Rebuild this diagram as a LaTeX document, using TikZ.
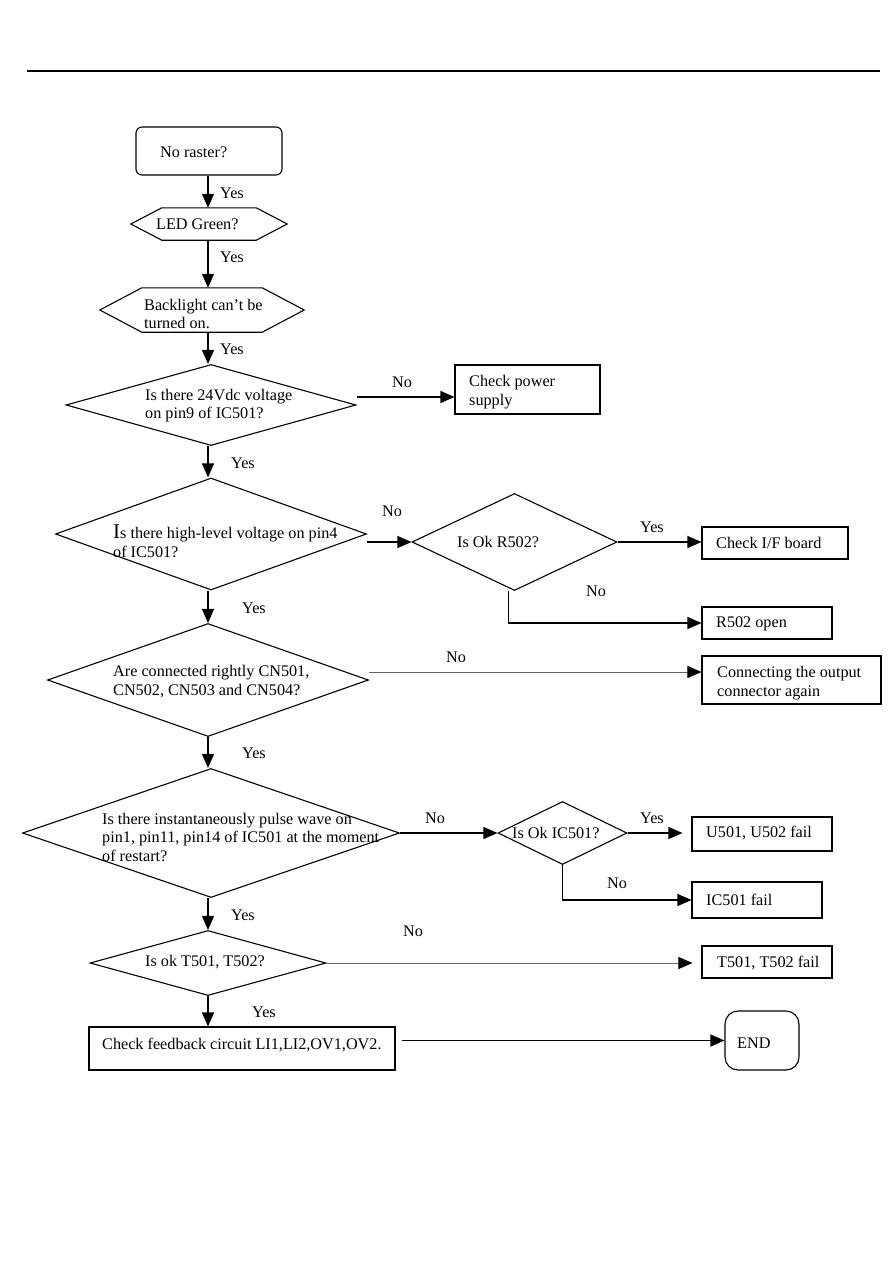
\documentclass[tikz,border=0pt]{standalone}
\usepackage{fontspec}
\setmainfont{Liberation Serif}
\usetikzlibrary{shapes.geometric,arrows.meta}

\begin{document}
\begin{tikzpicture}[x=1pt,y=-1pt,
  every node/.style={font=\fontsize{16.2}{18.5}\selectfont},
  txt/.style={anchor=west,align=left,inner sep=0pt},
  lbl/.style={inner sep=0pt},
  box/.style={draw,line width=1.1pt,inner sep=0pt},
  dia/.style={draw,diamond,line width=1.1pt,inner sep=0pt},
  hexa/.style={inner sep=0pt},
  arr/.style={-{Triangle[length=14pt,width=12pt]},line width=1.1pt},
  faint/.style={-{Triangle[length=14pt,width=12pt,color=black]},line width=0.7pt,gray!80!black}]
\useasboundingbox (0,0) rectangle (893,1263);

\draw[line width=2.2pt] (27,71) -- (880,71);

\node[box,rounded corners=6pt,minimum width=146,minimum height=48] (A) at (209,151) {};
\node[hexa,minimum width=156,minimum height=32] (B) at (209,224) {};
\node[hexa,minimum width=204,minimum height=44] (C) at (202,310) {};
\node[dia,minimum width=290,minimum height=81] (D) at (211,405) {};
\node[box,minimum width=145,minimum height=49] (E) at (527.5,389.5) {};
\node[dia,minimum width=311,minimum height=112] (F) at (211,534) {};
\node[dia,minimum width=205,minimum height=97] (G) at (514.5,542) {};
\node[box,minimum width=146,minimum height=32] (H) at (775,543) {};
\node[box,minimum width=130,minimum height=32] (I) at (767,623) {};
\node[dia,minimum width=321,minimum height=113] (J) at (208,680) {};
\node[box,minimum width=179,minimum height=48] (K) at (791.5,680) {};
\node[dia,minimum width=377,minimum height=129] (L) at (211,833) {};
\node[dia,minimum width=129,minimum height=63] (M) at (562.5,833) {};
\node[box,minimum width=140,minimum height=34] (N) at (762,834) {};
\node[box,minimum width=130,minimum height=36] (O) at (757,900) {};
\node[dia,minimum width=236,minimum height=65] (P) at (208,963) {};
\node[box,minimum width=130,minimum height=32] (Q) at (767,962) {};
\node[box,minimum width=306,minimum height=43] (R) at (242,1048.5) {};
\node[box,rounded corners=13pt,minimum width=74,minimum height=59] (S) at (762,1040.5) {};

% hexagon outlines
\draw[line width=1.1pt] (B.west) -- ([xshift=31pt]B.north west) -- ([xshift=-31pt]B.north east) -- (B.east) -- ([xshift=-31pt]B.south east) -- ([xshift=31pt]B.south west) -- cycle;
\draw[line width=1.1pt] (C.west) -- ([xshift=42pt]C.north west) -- ([xshift=-42pt]C.north east) -- (C.east) -- ([xshift=-42pt]C.south east) -- ([xshift=42pt]C.south west) -- cycle;

% texts
\node[txt] (tA) at (160,152) {No raster?};
\node[txt] (tB) at (156,224) {LED Green?};
\node[txt] (tC) at (144,314) {Backlight can't be\\turned on.};
\node[txt] (tD) at (145,405.5) {Is there 24Vdc voltage\\on pin9 of IC501?};
\node[txt] (tE) at (469,392) {Check power\\supply};
\node[txt] (tF) at (113,541) {{\fontsize{21}{18.5}\selectfont I}s there high-level voltage on pin4\\of IC501?};
\node[txt] (tG) at (457,542) {Is Ok R502?};
\node[txt] (tH) at (716,543) {Check I/F board};
\node[txt] (tI) at (716,624) {R502 open};
\node[txt] (tJ) at (113,681.5) {Are connected rightly CN501,\\CN502, CN503 and CN504?};
\node[txt] (tK) at (717,683) {Connecting the output\\connector again};
\node[txt] (tL) at (102,837) {Is there instantaneously pulse wave on\\pin1, pin11, pin14 of IC501 at the moment\\of restart?};
\node[txt] (tM) at (512,833) {Is Ok IC501?};
\node[txt] (tN) at (706,833) {U501, U502 fail};
\node[txt] (tO) at (706,900) {IC501 fail};
\node[txt] (tP) at (145,962) {Is ok T501, T502?};
\node[txt] (tQ) at (717,963) {T501, T502 fail};
\node[txt] (tR) at (102,1045) {Check feedback circuit LI1,LI2,OV1,OV2.};
\node[txt] (tS) at (737,1043) {END};

% yes / no
\node[lbl] (y1) at (232,193) {Yes};
\node[lbl] (y2) at (232,257) {Yes};
\node[lbl] (y3) at (232,349) {Yes};
\node[lbl] (n1) at (402,382) {No};
\node[lbl] (y4) at (243,463) {Yes};
\node[lbl] (n2) at (392,511) {No};
\node[lbl] (y5) at (652,527) {Yes};
\node[lbl] (n3) at (596,591) {No};
\node[lbl] (y6) at (254,608) {Yes};
\node[lbl] (n4) at (456,657) {No};
\node[lbl] (y7) at (254,753) {Yes};
\node[lbl] (n5) at (435,818) {No};
\node[lbl] (y8) at (652,818) {Yes};
\node[lbl] (n6) at (617,883) {No};
\node[lbl] (y9) at (243,915) {Yes};
\node[lbl] (n7) at (413,931) {No};
\node[lbl] (y10) at (264,1012) {Yes};

\draw[arr] (A.south -| 208,0) -- (B.north -| 208,0);
\draw[arr] (B.south -| 208,0) -- (C.north -| 208,0);
\draw[arr] (C.south -| 208,0) -- (D.north -| 208,0);
\draw[arr] (D.south -| 208,0) -- (F.north -| 208,0);
\draw[arr] (F.south -| 208,0) -- (J.north -| 208,0);
\draw[arr] (J.south -| 208,0) -- (L.north -| 208,0);
\draw[arr] (L.south -| 208,0) -- (P.north -| 208,0);
\draw[arr] (P.south) -- (P.south |- R.north);

\draw[arr] ([yshift=8pt]D.east) -- ([yshift=-7.5pt]E.west);
\draw[arr] (F.east |- G.west) -- (G.west);
\draw[arr] (G.east) -- (G.east -| H.west);
\draw[arr] ([xshift=-6pt]G.south) |- (I.west);
\draw[faint] ([yshift=8pt]J.east) -- ([yshift=8pt]J.east -| K.west);
\draw[arr] (L.east) -- (M.west);
\draw[arr,shorten >=9pt] (M.east) -- (M.east -| N.west);
\draw[arr] (M.south) |- (O.west);
\draw[faint,shorten >=9pt] (P.east) -- (P.east -| Q.west);
\draw[arr] ([xshift=6pt]R.east |- S.west) -- (S.west);
\end{tikzpicture}
\end{document}
